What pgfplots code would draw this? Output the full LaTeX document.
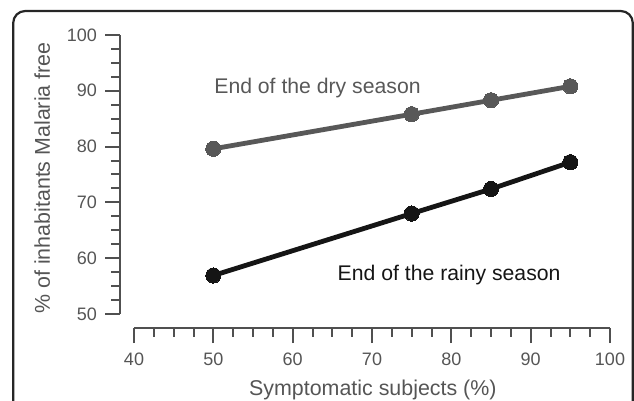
\documentclass[border=0pt]{standalone}
\usepackage{pgfplots}
\pgfplotsset{compat=1.18}
\usepackage{fontspec}
\setmainfont{Liberation Sans}
\definecolor{dryc}{HTML}{585858}
\definecolor{rainc}{HTML}{151515}
\definecolor{axc}{HTML}{505050}
\definecolor{txc}{HTML}{555555}
\begin{document}
\begin{tikzpicture}
\useasboundingbox (0,0) rectangle (317bp,200.5bp);
\begin{scope}
\clip (0,0) rectangle (317bp,200.5bp);
\draw[line width=1.1bp, color=black!85, rounded corners=6bp] (6.6bp,-20bp) rectangle (316.4bp,195bp);
\end{scope}
\begin{axis}[
  at={(60bp,36.5bp)}, anchor=south west,
  scale only axis, width=245bp, height=146.5bp,
  xmin=38.235, xmax=100, ymin=47.49, ymax=100,
  axis lines=left,
  axis line style={-, color=axc, line width=1bp},
  x axis line style={shorten <=7bp},
  y axis line style={shorten <=7bp},
  xtick={40,50,...,100}, ytick={50,60,...,100},
  minor x tick num=3, minor y tick num=3,
  tick align=outside,
  major tick length=7.5bp, minor tick length=4.3bp,
  tick style={color=axc, line width=1bp},
  every tick label/.append style={font=\fontsize{9bp}{10bp}\selectfont, text=txc},
  /pgf/number format/assume math mode=true,
  xticklabel style={yshift=-1.5bp},
  yticklabel style={xshift=-0.5bp},
  xlabel={Symptomatic subjects (\%)},
  ylabel={\% of inhabitants Malaria free},
  label style={font=\fontsize{10.7bp}{12bp}\selectfont, text=txc},
  xlabel style={at={(axis description cs:0.516,-0.232)}, anchor=base},
  ylabel style={at={(axis description cs:-0.1429,0.512)}, anchor=base, rotate=0},
  clip=false,
]
\addplot[color=dryc, line width=2.4bp, mark=*, mark size=3.8bp, mark options={fill=dryc, draw=dryc, line width=0pt}]
  coordinates {(50,79.6) (75,85.8) (85,88.3) (95,90.8)};
\addplot[color=rainc, line width=2.4bp, mark=*, mark size=3.8bp, mark options={fill=rainc, draw=rainc, line width=0pt}]
  coordinates {(50,56.9) (75,68.0) (85,72.4) (95,77.2)};
\node[anchor=base west, text=dryc, font=\fontsize{10.6bp}{12bp}\selectfont, inner sep=0pt] at (axis cs:50.08,89.43) {End of the dry season};
\node[anchor=base west, text=rainc, font=\fontsize{10.6bp}{12bp}\selectfont, inner sep=0pt] at (axis cs:65.63,56.09) {End of the rainy season};
\end{axis}
\end{tikzpicture}
\end{document}
